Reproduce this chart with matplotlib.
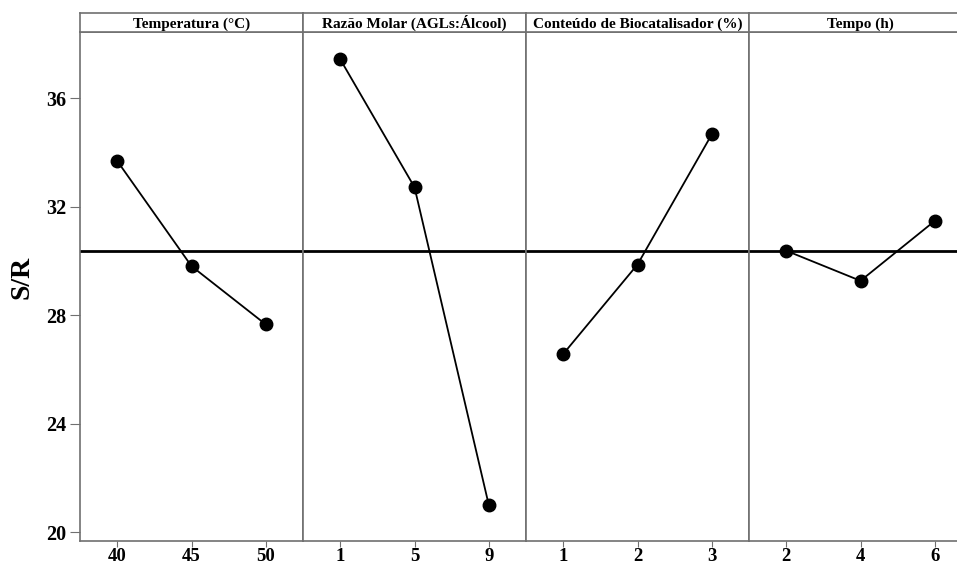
import matplotlib.pyplot as plt

# Main effects for S/R ratios (Taguchi), one panel per factor
factors = ["Temperatura (°C)", "Razão Molar (AGLs:Álcool)",
           "Conteúdo de Biocatalisador (%)", "Tempo (h)"]
levels = [["40", "45", "50"], ["1", "5", "9"], ["1", "2", "3"], ["2", "4", "6"]]
sr_temp = [33.69, 29.81, 27.66]
sr_razao = [37.44, 32.72, 21.00]
sr_bio = [26.57, 29.87, 34.67]
sr_tempo = [30.38, 29.27, 31.48]
series = [sr_temp, sr_razao, sr_bio, sr_tempo]
mean_sr = 30.38
y_ticks = [20, 24, 28, 32, 36]

plt.rcParams["font.family"] = ["Liberation Serif", "DejaVu Serif"]
plt.rcParams["font.weight"] = "bold"

W, H = 957, 566
fig = plt.figure(figsize=(W / 100, H / 100), dpi=100)

frame_col = "#707070"
left, panel_w = 80, 223
bottom, top_data, top_frame = 540.7, 32.3, 13.3

for i, (name, labs, vals) in enumerate(zip(factors, levels, series)):
    x0 = left + i * panel_w
    ax = fig.add_axes([x0 / W, (H - bottom) / H, panel_w / W, (bottom - top_data) / H])
    xs = list(range(len(vals)))
    ax.plot(xs, vals, color="black", lw=1.3, marker="o", ms=9, zorder=3)
    ax.axhline(mean_sr, color="black", lw=2, zorder=2)
    ax.set_xlim(-0.5, 2.5)
    ax.set_ylim(19.69, 38.43)
    ax.set_xticks(xs)
    ax.set_xticklabels(labs)
    ax.set_yticks(y_ticks)
    for s in ax.spines.values():
        s.set_color(frame_col)
        s.set_linewidth(1.2)
    ax.tick_params(axis="x", length=4, color=frame_col, labelsize=13.5, pad=1.5)
    if i == 0:
        ax.tick_params(axis="y", length=7, color=frame_col, labelsize=14.5, pad=3)
    else:
        ax.tick_params(axis="y", left=False, labelleft=False)

    hdr = fig.add_axes([x0 / W, (H - top_data) / H, panel_w / W, (top_data - top_frame) / H])
    hdr.set_xticks([])
    hdr.set_yticks([])
    for s in hdr.spines.values():
        s.set_color(frame_col)
        s.set_linewidth(1.2)
    hdr.text(0.5, 0.22, name, ha="center", va="baseline", fontsize=11,
             fontweight="bold", transform=hdr.transAxes)

fig.text(22 / W, 1 - 277 / H, "S/R", rotation=90, ha="center", va="center",
         fontsize=20, fontweight="bold")

fig.savefig("out.png", dpi=100)
